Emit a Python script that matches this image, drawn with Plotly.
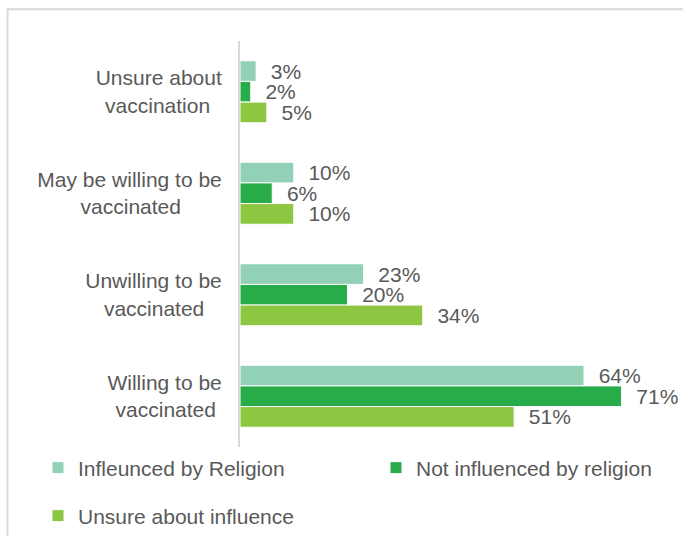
import plotly.graph_objects as go

NB = "\u00a0"
categories = [
    "Unsure about<br>vaccination" + NB * 2,
    "May be willing to be<br>vaccinated" + NB * 7,
    "Unwilling to be<br>vaccinated" + NB * 3,
    "Willing to be<br>vaccinated" + NB * 1,
]
series_names = ["Infleunced by Religion", "Not influenced by religion", "Unsure about influence"]
religion = [3, 10, 23, 64]
not_religion = [2, 6, 20, 71]
unsure = [5, 10, 34, 51]
colors = ["#92D1B5", "#28AC4A", "#8DC641"]

W, H = 683, 536
L, R, T, B = 240, 13, 41, 89
pw, ph = W - L - R, H - T - B

def px2x(p):
    return (p - L) / pw

def px2y(p):
    return (H - B - p) / ph

TXT = "#595959"
FONT = "Liberation Sans, Arial, sans-serif"

fig = go.Figure()
for name, vals, col, leg in zip(series_names, [religion, not_religion, unsure], colors,
                                ["legend", "legend2", "legend3"]):
    fig.add_trace(go.Bar(
        y=categories, x=vals, orientation="h", name=name,
        marker=dict(color=col, line=dict(color="white", width=1)),
        text=[NB * 2 + f"{v}%" for v in vals], textposition="outside",
        textfont=dict(size=21, color=TXT, family=FONT),
        constraintext="none", cliponaxis=False, legend=leg,
        hoverinfo="skip",
    ))

leg_common = dict(orientation="h", xanchor="left", yanchor="middle",
                  font=dict(size=21, color=TXT), bgcolor="rgba(0,0,0,0)")

fig.update_layout(
    width=W, height=H,
    margin=dict(l=L, r=R, t=T, b=B, autoexpand=False),
    paper_bgcolor="white", plot_bgcolor="white",
    barmode="group", bargap=0.389, bargroupgap=0,
    font=dict(family=FONT, size=21, color=TXT),
    xaxis=dict(range=[0, 80], visible=False, fixedrange=True),
    yaxis=dict(autorange="reversed", showline=True, linecolor="#D9D9D9", linewidth=2,
               ticks="", showgrid=False, tickfont=dict(size=21, color=TXT),
               ticklabelstandoff=12),
    legend=dict(x=px2x(38), y=px2y(468), **leg_common),
    legend2=dict(x=px2x(376), y=px2y(468), **leg_common),
    legend3=dict(x=px2x(38), y=px2y(516), **leg_common),
    showlegend=True,
    shapes=[dict(type="rect", xref="paper", yref="paper",
                 x0=px2x(7.5), x1=px2x(720), y0=px2y(9.3), y1=px2y(580),
                 line=dict(color="#D9D9D9", width=2), layer="below")],
)

fig.write_html("out.html")
